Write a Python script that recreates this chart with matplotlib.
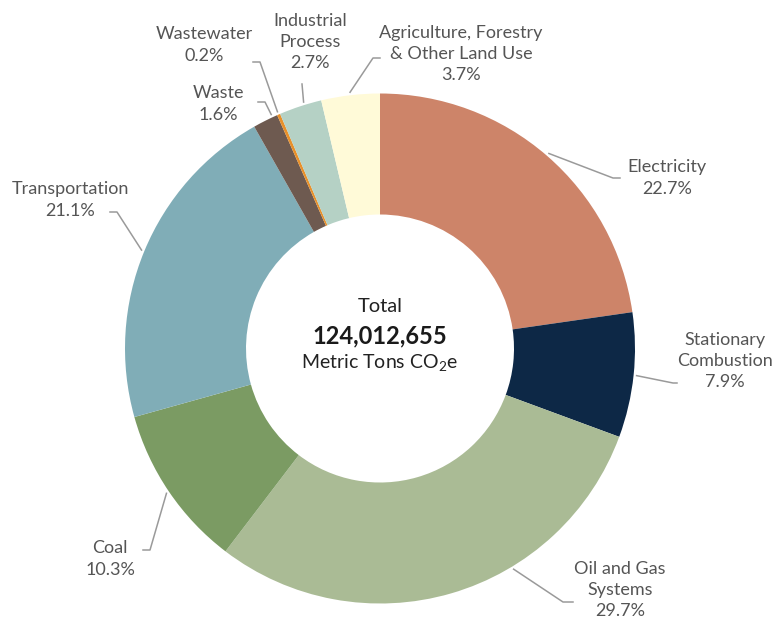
import numpy as np
import matplotlib
matplotlib.use("Agg")
import matplotlib.pyplot as plt

plt.rcParams['font.family'] = ['Lato', 'DejaVu Sans']
plt.rcParams['mathtext.fontset'] = 'custom'
plt.rcParams['mathtext.rm'] = 'Lato'

# --- data ---
sectors = ["Electricity", "Stationary\nCombustion", "Oil and Gas\nSystems", "Coal",
           "Transportation", "Waste", "Wastewater", "Industrial\nProcess",
           "Agriculture, Forestry\n& Other Land Use"]
shares = [22.7, 7.9, 29.7, 10.3, 21.1, 1.6, 0.2, 2.7, 3.7]
colors = ["#CD8469", "#0D2846", "#AABB95", "#7B9B63", "#80ADB7",
          "#6E5A50", "#E8902A", "#B5D1C5", "#FFFAD8"]
total_label = "124,012,655"

# label layout in pixels (x, y from top): text centre, leader elbow, leader end
text_xy = [(667, 178), (725, 361), (620, 590), (110, 559), (70, 200),
           (218, 104), (204, 45), (310, 42), (461, 54)]
elbow_xy = [(613, 178), (673, 383), (563, 602), (150, 550), (117, 212),
            (265, 102), (260, 62), (302, 84), (373, 58)]
end_xy = [(620, 178), (677, 383), (573, 602), (143, 550), (110, 212),
          (258, 102), (253, 62), (302, 84), (380, 58)]
# where along each wedge (0..1, clockwise) the leader line starts
anchor = [0.5, 0.5, 0.36, 0.5, 0.5, 0.8, 0.5, 0.6, 0.5]

W, H = 778, 623
cx, cy = 380, 623 - 348.5
r_out, r_in = 255, 134

fig = plt.figure(figsize=(W / 100, H / 100), dpi=100)
ax = fig.add_axes([0, 0, 1, 1])

wedges, _ = ax.pie(shares, colors=colors, startangle=90, counterclock=False,
                   center=(cx, cy), radius=r_out,
                   wedgeprops=dict(width=r_out - r_in, linewidth=0))
# pie resets the limits, so set pixel-space limits afterwards
ax.set_xlim(0, W)
ax.set_ylim(0, H)
ax.set_aspect('equal')
ax.axis('off')

text_color = "#555555"
line_color = "#9a9a9a"
for w, name, val, t, e, n, a in zip(wedges, sectors, shares, text_xy,
                                    elbow_xy, end_xy, anchor):
    # theta2 is the clockwise start of the wedge when counterclock=False
    ang = np.deg2rad(w.theta2 - a * (w.theta2 - w.theta1))
    sx = cx + 258 * np.cos(ang)
    sy = cy + 258 * np.sin(ang)
    ax.plot([sx, e[0], n[0]], [sy, H - e[1], H - n[1]], color=line_color, lw=1.1)
    ax.text(t[0], H - t[1], f"{name}\n{val}%", ha='center', va='center',
            fontsize=13, color=text_color, linespacing=1.4)

# centre text
ax.text(cx, H - 307, "Total", ha='center', va='center', fontsize=14.5, color="#222222")
ax.text(cx, H - 336, total_label, ha='center', va='center', fontsize=17,
        fontweight='bold', color="#1a1a1a")
ax.text(cx, H - 363, r"Metric Tons CO$_{2}$e", ha='center', va='center',
        fontsize=14, color="#222222")

fig.savefig("out.png", dpi=100, facecolor='white')
